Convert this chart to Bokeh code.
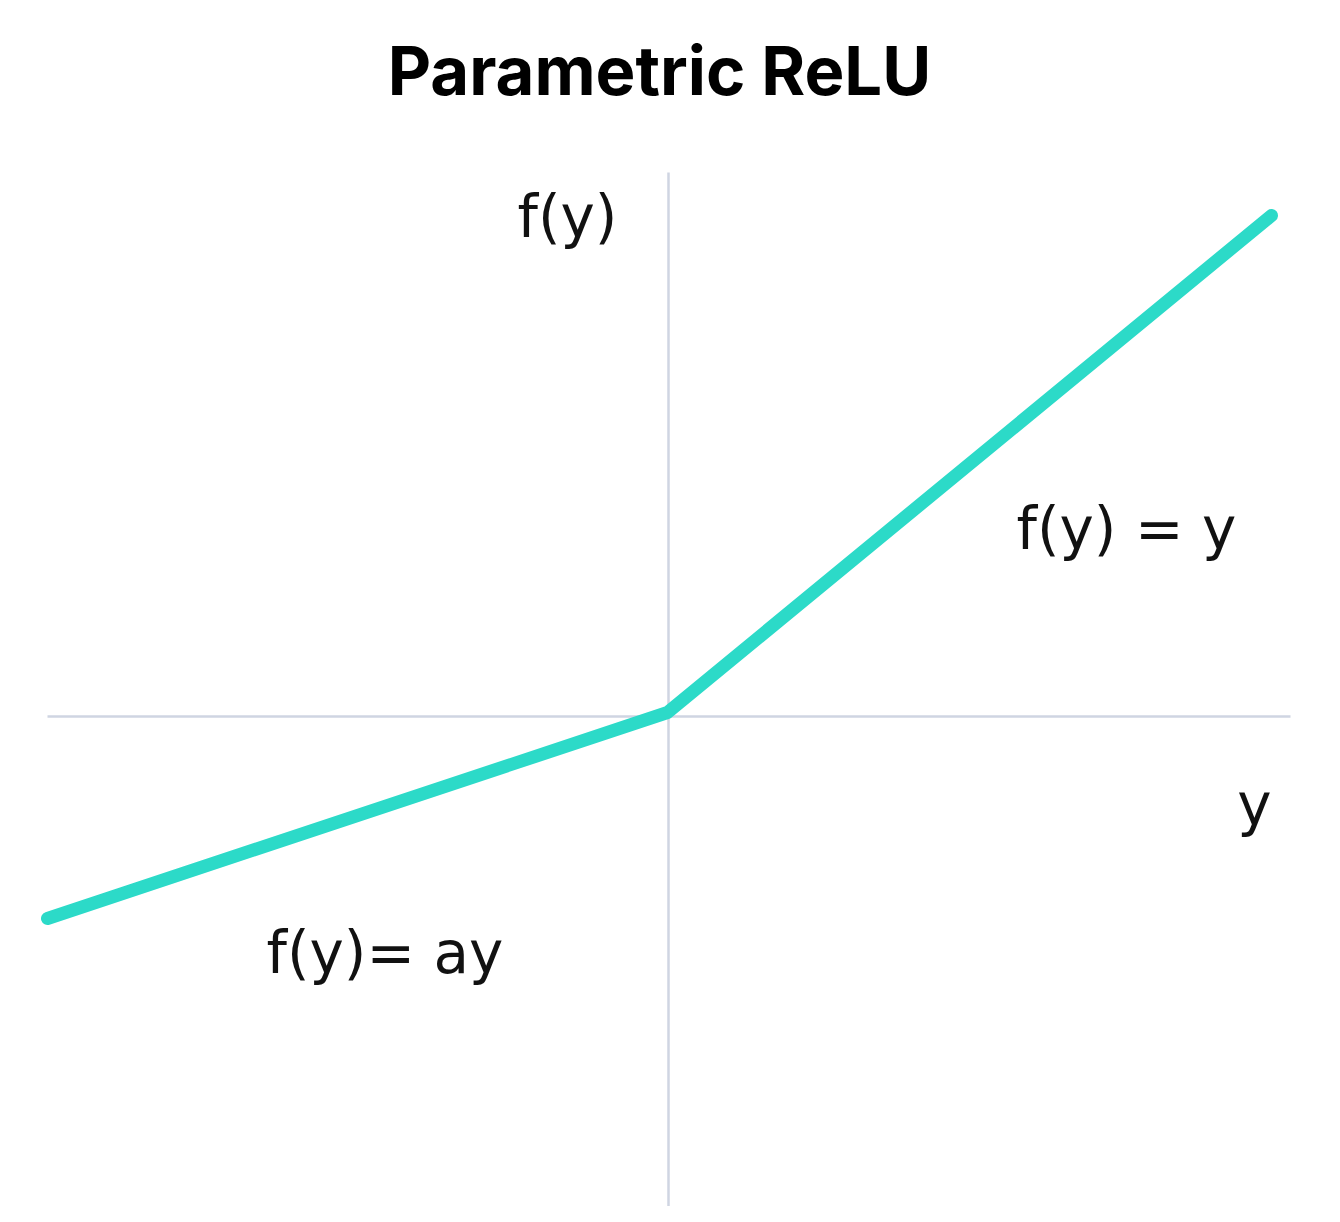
from bokeh.plotting import figure
from bokeh.models import Range1d
from bokeh.core.properties import value
from bokeh.embed import file_html
from bokeh.resources import INLINE

# Data (1 unit = 100 px)
curve_x = [-6.20, 0.0, 6.04]
curve_y = [-2.02, 0.04, 5.01]

haxis_x = [-6.20, 6.23]
haxis_y = [0.0, 0.0]
vaxis_x = [0.01, 0.01]
vaxis_y = [5.44, -5.20]

title_text = "Parametric ReLU"
labels = ["f(y)", "f(y) = y", "y", "f(y)= ay"]
label_x = [-0.50, 3.49, 5.87, -4.01]
label_y = [5.00, 1.88, -0.88, -2.36]
label_align = ["right", "left", "center", "left"]

p = figure(width=1324, height=1206, output_backend="svg", toolbar_location=None,
           x_range=Range1d(-6.67, 6.57), y_range=Range1d(-4.90, 7.16),
           min_border=0, outline_line_color=None)
p.axis.visible = False
p.grid.visible = False
p.background_fill_color = "white"
p.border_fill_color = "white"

axis_color = "#cfd5e2"
p.line(haxis_x, haxis_y, line_color=axis_color, line_width=2.5)
p.line(vaxis_x, vaxis_y, line_color=axis_color, line_width=2.5)

p.line(curve_x, curve_y, line_color="#2cdac8", line_width=13,
       line_cap="round", line_join="round")

for t, x, y, a in zip(labels, label_x, label_y, label_align):
    p.text(x=[x], y=[y], text=[t], text_align=a, text_baseline="alphabetic",
           text_font=value("DejaVu Sans"), text_font_size="58px", text_color="#111111")

p.text(x=[-0.08], y=[6.46], text=[title_text], text_align="center",
       text_baseline="alphabetic", text_font=value("Inter"), text_font_style="bold",
       text_font_size="67px", text_color="#000000")

open("out.html", "w").write(file_html(p, INLINE))
